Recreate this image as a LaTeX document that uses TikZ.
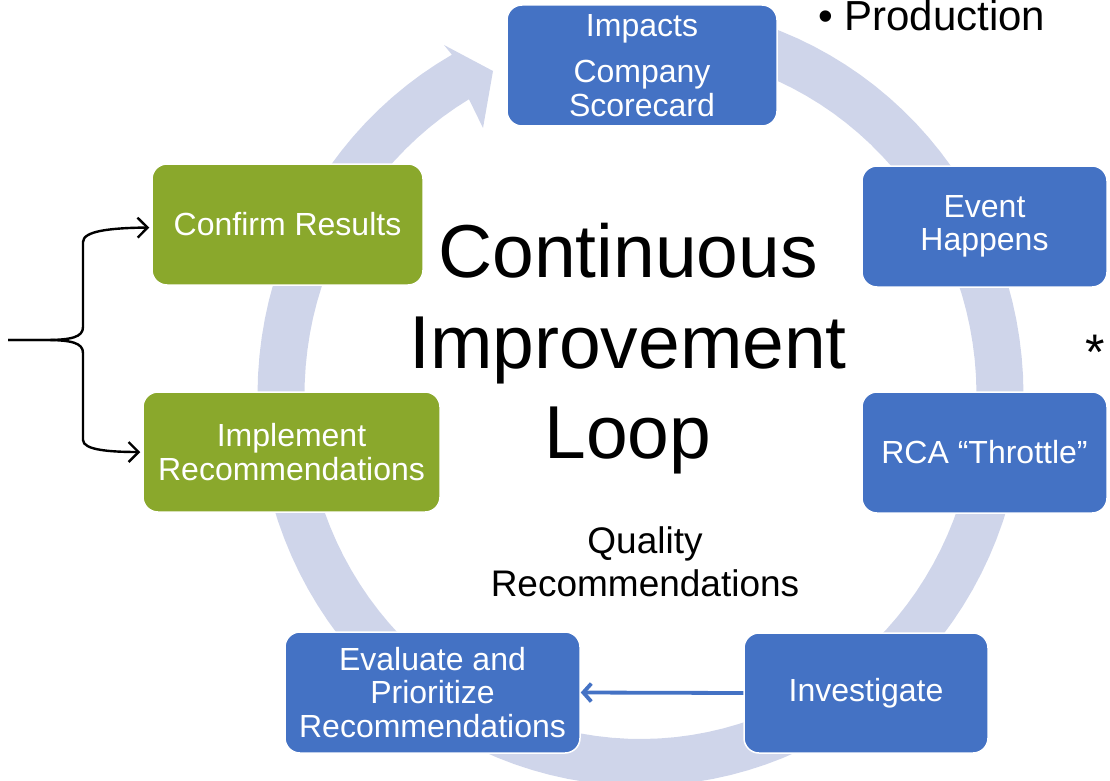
\documentclass[tikz,border=0pt]{standalone}
\usepackage{fontspec}
\setmainfont{Liberation Sans}
\usetikzlibrary{arrows.meta,calc}
\definecolor{ablue}{HTML}{4472C4}
\definecolor{agreen}{HTML}{8AA82C}
\definecolor{aring}{HTML}{CFD5EA}
\tikzset{
  box/.style={rectangle, rounded corners=15pt, draw=white, line width=1.5pt,
    text=white, align=center, inner sep=0pt, font=\fontsize{32}{33.5}\selectfont},
  bluebox/.style={box, fill=ablue},
  greenbox/.style={box, fill=agreen},
  ringfill/.style={fill=aring},
  bracearrow/.style={draw=black, line width=2.4pt, -{Straight Barb[length=10pt,width=20pt]}},
  bluearrow/.style={draw=ablue, line width=3.8pt, -{Straight Barb[length=8pt,width=18pt]}},
  bigtext/.style={align=center, text=black, inner sep=0pt, font=\fontsize{75}{90.5}\selectfont},
  midtext/.style={align=center, text=black, inner sep=0pt, font=\fontsize{37}{43}\selectfont}
}
\begin{document}
\begin{tikzpicture}[x=1pt,y=-1pt]
\useasboundingbox (0,0) rectangle (1110,781);
% cycle ring with arrowhead
\fill[ringfill] plot[domain=-85:240.5, samples=120] ({640.5+383*cos(\x)},{395+391*sin(\x)})
  -- (444,45) -- (493,71) -- (483,128)
  -- plot[domain=239.3:-85, samples=120] ({640.5+336*cos(\x)},{395+344*sin(\x)}) -- cycle;
% boxes
\node[bluebox, minimum width=270pt, minimum height=121pt] (impacts) at (642,65.5) {Impacts\\[13pt]Company\\Scorecard};
\node[bluebox, minimum width=245pt, minimum height=121pt] (event) at (984.5,226.5) {Event\\Happens};
\node[bluebox, minimum width=245pt, minimum height=121pt] (rca) at (984.5,452.5) {RCA “Throttle”};
\node[bluebox, minimum width=244pt, minimum height=120pt] (investigate) at (866,693) {Investigate};
\node[bluebox, minimum width=295pt, minimum height=121pt] (evaluate) at (432.5,692.5) {Evaluate and\\Prioritize\\Recommendations};
\node[greenbox, minimum width=297pt, minimum height=120pt] (implement) at (291.5,452) {Implement\\Recommendations};
\node[greenbox, minimum width=271pt, minimum height=121pt] (confirm) at (287.5,224.5) {Confirm Results};
% texts
\node[bigtext] (title) at (628,349) {Continuous\\Improvement\\Loop};
\node[midtext] (quality) at (645,561.5) {Quality\\Recommendations};
\node[anchor=base west, inner sep=0pt, font=\fontsize{42}{48}\selectfont] (prod) at (818,31) {• Production};
\node[inner sep=0pt, font=\fontsize{50}{56}\selectfont] (star) at (1095,352) {*};
% connectors
\draw[bluearrow] (investigate.west) -- (evaluate.east);
\coordinate (src) at (8,340);
\draw[bracearrow] (src) -- (45,340) .. controls (72,340) and (83,337) .. (83,327)
  -- (83,242) .. controls (83,231) and (110,228) .. ($(confirm.west)+(-2,3)$);
\draw[bracearrow] (src) -- (45,340) .. controls (72,340) and (83,343) .. (83,353)
  -- (83,440) .. controls (83,450) and (110,452) .. ($(implement.west)+(-2,0)$);
\end{tikzpicture}
\end{document}
